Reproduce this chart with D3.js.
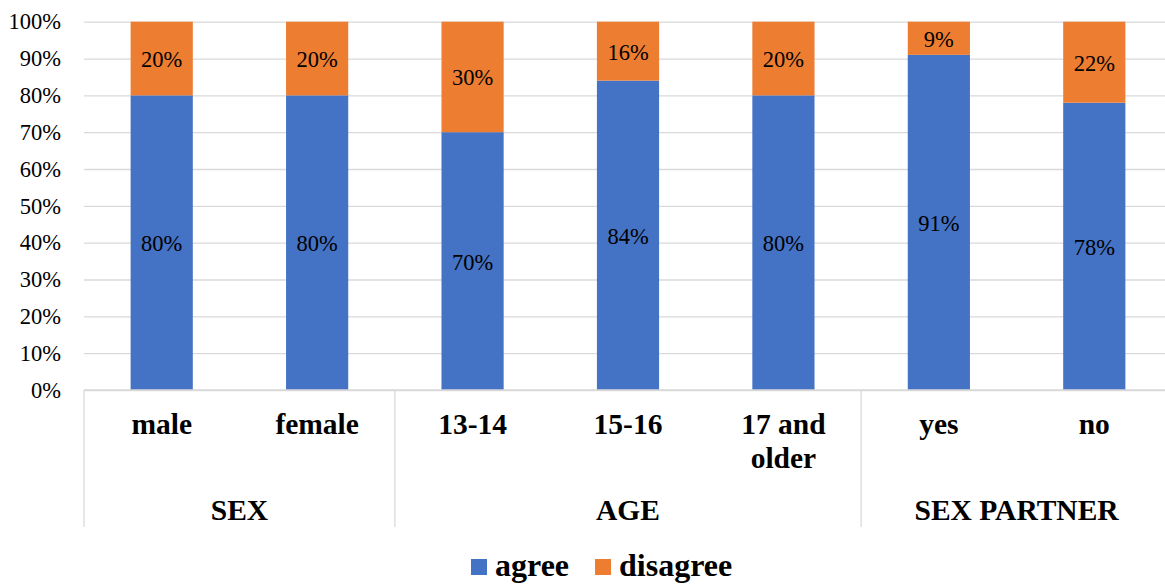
<!DOCTYPE html>
<html>
<head>
<meta charset="utf-8">
<script src="https://cdn.jsdelivr.net/npm/d3@7"></script>
<style>
  html, body { margin: 0; padding: 0; background: #fff; }
  svg { display: block; }
  svg text { font-family: "Liberation Serif", "Times New Roman", Times, serif; }
</style>
</head>
<body>
<svg id="chart" width="1165" height="585"></svg>
<script>
// Categories, their groups, and the two stacked series (percent)
const categories = ["male", "female", "13-14", "15-16", "17 and older", "yes", "no"];
const categoryGroup = ["SEX", "SEX", "AGE", "AGE", "AGE", "SEX PARTNER", "SEX PARTNER"];
const groups = ["SEX", "AGE", "SEX PARTNER"];
const agree = [80, 80, 70, 84, 80, 91, 78];
const disagree = [20, 20, 30, 16, 20, 9, 22];
const seriesNames = ["agree", "disagree"];
const seriesColors = ["#4472C4", "#ED7D31"];
const yTicks = [0, 10, 20, 30, 40, 50, 60, 70, 80, 90, 100];

const svg = d3.select("#chart");
const plotLeft = 84, plotRight = 1172, plotTop = 21.7, plotBottom = 390;
const gridColor = "#d9d9d9";

const x = d3.scaleBand().domain(categories).range([plotLeft, plotRight])
  .paddingInner(0.6).paddingOuter(0.3);
const y = d3.scaleLinear().domain([0, 100]).range([plotBottom, plotTop]);

// Horizontal gridlines + percentage tick labels
const yAxis = d3.axisLeft(y).tickValues(yTicks)
  .tickSize(-(plotRight - plotLeft)).tickPadding(23)
  .tickFormat(d => d + "%");
const gy = svg.append("g").attr("transform", `translate(${plotLeft},0)`).call(yAxis);
gy.attr("font-family", null);
gy.select(".domain").remove();
gy.selectAll(".tick line").attr("stroke", gridColor).attr("stroke-width", 1.3);
gy.selectAll(".tick text").attr("font-size", 22.5).attr("fill", "#000");

// Stacked bars
const rows = categories.map((c, i) => ({ cat: c, agree: agree[i], disagree: disagree[i] }));
const stack = d3.stack().keys(seriesNames)(rows);

const layers = svg.append("g").selectAll("g").data(stack).join("g")
  .attr("fill", (d, i) => seriesColors[i]);
layers.selectAll("rect").data(d => d).join("rect")
  .attr("x", d => x(d.data.cat))
  .attr("width", x.bandwidth())
  .attr("y", d => y(d[1]))
  .attr("height", d => y(d[0]) - y(d[1]));

// Value labels centred in each segment
layers.selectAll("text").data(d => d.map(s => ({ s, key: d.key }))).join("text")
  .attr("x", d => x(d.s.data.cat) + x.bandwidth() / 2)
  .attr("y", d => (y(d.s[0]) + y(d.s[1])) / 2 + 1)
  .attr("text-anchor", "middle")
  .attr("dominant-baseline", "central")
  .attr("font-size", 22.5).attr("fill", "#000")
  .text(d => d.s.data[d.key] + "%");

// Baseline
svg.append("line")
  .attr("x1", plotLeft).attr("x2", plotRight).attr("y1", plotBottom).attr("y2", plotBottom)
  .attr("stroke", gridColor).attr("stroke-width", 1.3);

// Group extents along the category axis
const half = x.step() / 2;
const groupBounds = groups.map(g => {
  const idx = categories.map((c, i) => i).filter(i => categoryGroup[i] === g);
  const first = categories[idx[0]], last = categories[idx[idx.length - 1]];
  const x0 = x(first) + x.bandwidth() / 2 - half;
  const x1 = x(last) + x.bandwidth() / 2 + half;
  return { g, x0, x1 };
});

// Group separators below the axis
const sepX = [groupBounds[0].x0].concat(groupBounds.map(b => b.x1));
svg.append("g").selectAll("line").data(sepX).join("line")
  .attr("x1", d => d).attr("x2", d => d)
  .attr("y1", plotBottom).attr("y2", 527)
  .attr("stroke", gridColor).attr("stroke-width", 1.3);

// Category labels (wrapped when wider than the band)
svg.append("g").selectAll("text").data(categories).join("text")
  .attr("x", d => x(d) + x.bandwidth() / 2)
  .attr("y", 434)
  .attr("text-anchor", "middle")
  .attr("font-size", 29.5).attr("font-weight", "bold")
  .attr("fill", "#000")
  .each(function (d) {
    const t = d3.select(this);
    const cx = t.attr("x");
    const words = d.split(" ");
    let line = [];
    let ts = t.append("tspan").attr("x", cx).attr("dy", 0);
    words.forEach(w => {
      line.push(w);
      ts.text(line.join(" "));
      if (ts.node().getComputedTextLength() > x.step() * 0.8 && line.length > 1) {
        line.pop();
        ts.text(line.join(" "));
        line = [w];
        ts = t.append("tspan").attr("x", cx).attr("dy", 34).text(w);
      }
    });
  });

// Group labels
svg.append("g").selectAll("text").data(groupBounds).join("text")
  .attr("x", d => (d.x0 + d.x1) / 2)
  .attr("y", 520)
  .attr("text-anchor", "middle")
  .attr("font-size", 29.5).attr("font-weight", "bold")
  .attr("fill", "#000")
  .text(d => d.g);

// Legend
const legend = svg.append("g").attr("transform", "translate(471,0)");
let lx = 0;
seriesNames.forEach((name, i) => {
  const item = legend.append("g").attr("transform", `translate(${lx},0)`);
  item.append("rect").attr("x", 0).attr("y", 559).attr("width", 16).attr("height", 16)
    .attr("fill", seriesColors[i]);
  const t = item.append("text").attr("x", 24).attr("y", 576)
    .attr("font-size", 32).attr("font-weight", "bold")
    .attr("fill", "#000").text(name);
  lx += 24 + t.node().getComputedTextLength() + 26;
});
</script>
</body>
</html>
